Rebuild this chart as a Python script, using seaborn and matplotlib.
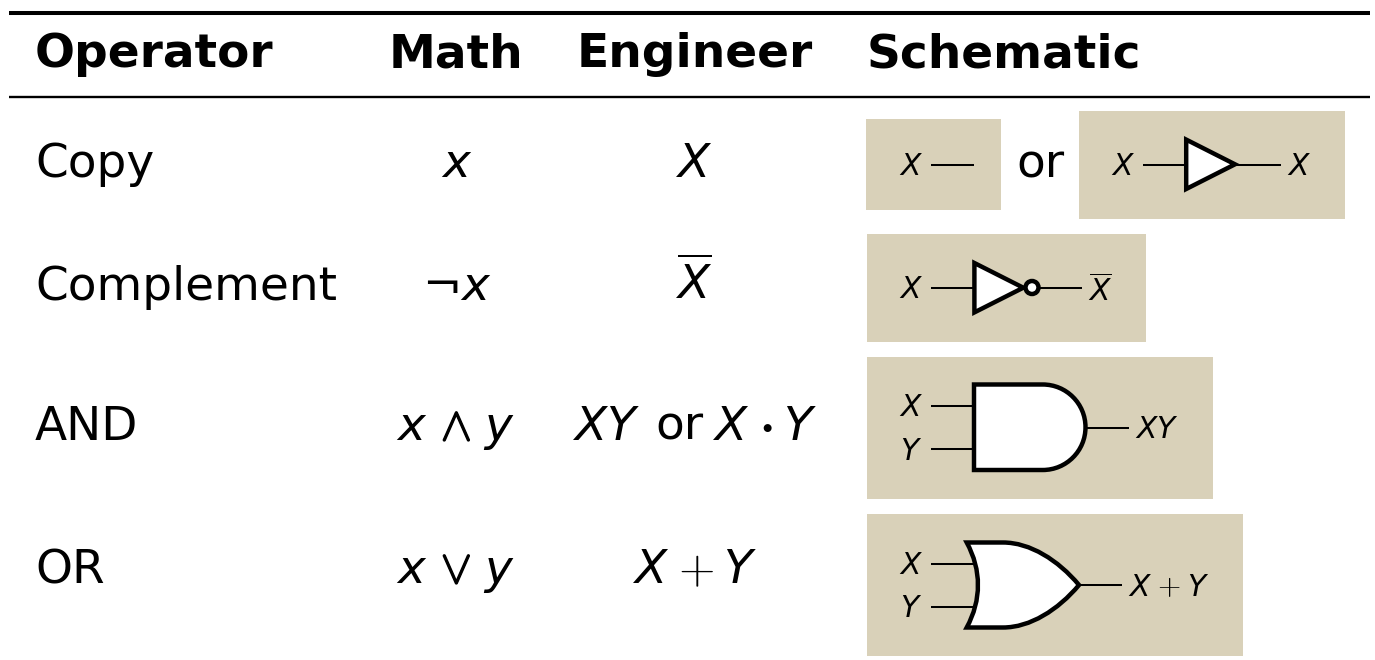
"""plot.py - boolean operator table with gate schematics."""

import matplotlib.patheffects as pe
import matplotlib.pyplot as plt
import seaborn as sns
from matplotlib.patches import Circle, PathPatch, Rectangle
from matplotlib.path import Path

HEADERS = ["Operator", "Math", "Engineer", "Schematic"]
OPERATORS = ["Copy", "Complement", "AND", "OR"]
MATH_COL = [r"$x$", r"$\neg x$", None, None]
ENGINEER_COL = [r"$X$", r"$\overline{X}$", None, None]

# layout, in pixels of the 1375x660 picture
ROW_BASELINES = [177, 300, 440, 583]
HEADER_BASELINE = 67
PANEL_COLOR = "#d9d1b9"
BIG = 33.8
SMALL = 21.4
THIN = 1.45
THICK = 3.2

PANELS = [
    (866, 119, 1001, 210),
    (1079, 111, 1345, 219),
    (867, 234, 1146, 342),
    (867, 357, 1213, 499),
    (867, 514, 1243, 656),
]
WIRES = [
    (931, 974, 164.5),
    (1143, 1186, 164.5),
    (1235, 1281, 164.5),
    (931, 974, 287.5),
    (1038, 1082, 287.5),
    (931, 973, 406),
    (931, 973, 449),
    (1086, 1129, 428),
    (931, 976, 563.5),
    (931, 976, 606.5),
    (1078, 1122, 585),
]
SMALL_LABELS = [
    (910.7, 175, r"$X$"),
    (1122.7, 175, r"$X$"),
    (1298.7, 175, r"$X$"),
    (910.7, 298, r"$X$"),
    (1100, 301, r"$\overline{X}$"),
    (910.7, 416.5, r"$X$"),
    (910.7, 460, r"$Y$"),
    (1156.7, 438.5, r"$XY$"),
    (910.7, 574, r"$X$"),
    (910.7, 617, r"$Y$"),
    (1140, 595.5, r"$X$"),
    (1198, 595.5, r"$Y$"),
]


def big_text(ax, x, y, s, ha="center", **kw):
    return ax.text(x, y, s, fontsize=kw.pop("fontsize", BIG), ha=ha, va="baseline", **kw)


def fatten(text, width):
    # cm symbols are too light next to the rest of the table
    text.set_path_effects([pe.withStroke(linewidth=width, foreground="black")])


def add_gate(ax, verts, codes):
    ax.add_patch(PathPatch(Path(verts, codes), fc="white", ec="black", lw=THICK,
                           joinstyle="miter", capstyle="projecting", zorder=3))


def draw_triangle(ax, x0, top, bottom, apex):
    mid = (top + bottom) / 2
    verts = [(x0, top), (apex, mid), (x0, bottom), (x0, top)]
    codes = [Path.MOVETO, Path.LINETO, Path.LINETO, Path.CLOSEPOLY]
    add_gate(ax, verts, codes)


def draw_and(ax, x0, x1, top, bottom):
    r = (bottom - top) / 2
    mid = (top + bottom) / 2
    k = 0.5523 * r
    cx = x1 - r
    verts = [(x0, top), (cx, top),
             (cx + k, top), (x1, mid - k), (x1, mid),
             (x1, mid + k), (cx + k, bottom), (cx, bottom),
             (x0, bottom), (x0, top)]
    codes = [Path.MOVETO, Path.LINETO,
             Path.CURVE4, Path.CURVE4, Path.CURVE4,
             Path.CURVE4, Path.CURVE4, Path.CURVE4,
             Path.LINETO, Path.CLOSEPOLY]
    add_gate(ax, verts, codes)


def draw_or(ax, x0, x1, top, bottom):
    mid = (top + bottom) / 2
    verts = [(x0, top), (1003, top),
             (1030, top), (1058, 560), (x1, mid),
             (1058, 610), (1030, bottom), (1003, bottom),
             (x0, bottom),
             (x0 + 15, 600), (x0 + 15, 570), (x0, top), (x0, top)]
    codes = [Path.MOVETO, Path.LINETO,
             Path.CURVE4, Path.CURVE4, Path.CURVE4,
             Path.CURVE4, Path.CURVE4, Path.CURVE4,
             Path.LINETO,
             Path.CURVE4, Path.CURVE4, Path.CURVE4, Path.CLOSEPOLY]
    add_gate(ax, verts, codes)


def main():
    sns.set_theme(style="white")
    plt.rcParams["font.family"] = "DejaVu Sans"
    plt.rcParams["mathtext.fontset"] = "dejavusans"
    plt.rcParams["text.color"] = "black"

    fig, ax = plt.subplots(figsize=(13.75, 6.6), dpi=100)
    ax.set_position([0, 0, 1, 1])
    ax.set_xlim(0, 1375)
    ax.set_ylim(660, 0)
    ax.axis("off")

    # table rules
    sns.lineplot(x=[9.5, 1370.5], y=[13, 13], color="black", linewidth=2.9,
                 solid_capstyle="butt", ax=ax)
    sns.lineplot(x=[9.5, 1370.5], y=[96.5, 96.5], color="black", linewidth=1.7,
                 solid_capstyle="butt", ax=ax)

    # header
    big_text(ax, 35, HEADER_BASELINE, HEADERS[0], ha="left", fontweight="bold")
    big_text(ax, 456, HEADER_BASELINE, HEADERS[1], fontweight="bold")
    big_text(ax, 695, HEADER_BASELINE, HEADERS[2], fontweight="bold")
    big_text(ax, 867, HEADER_BASELINE, HEADERS[3], ha="left", fontweight="bold")

    # first three columns
    for name, math, eng, y in zip(OPERATORS, MATH_COL, ENGINEER_COL, ROW_BASELINES):
        big_text(ax, 35, y, name, ha="left")
        if math:
            big_text(ax, 457, y, math)
        if eng:
            big_text(ax, 694, y, eng)

    # operators are set apart from their operands
    for row, sym in [(2, r"$\wedge$"), (3, r"$\vee$")]:
        y = ROW_BASELINES[row]
        big_text(ax, 411.7, y, r"$x$")
        fatten(big_text(ax, 456, y, sym, math_fontfamily="cm"), 1.0)
        big_text(ax, 499, y, r"$y$")
    y = ROW_BASELINES[2]
    big_text(ax, 606, y, r"$XY$")
    big_text(ax, 679, y, "or")
    big_text(ax, 731, y, r"$X$")
    fatten(big_text(ax, 766.7, y, r"$\cdot$", math_fontfamily="cm"), 2.0)
    big_text(ax, 799.5, y, r"$Y$")
    big_text(ax, 650.5, ROW_BASELINES[3], r"$X$")
    big_text(ax, 695.7, ROW_BASELINES[3], r"$+$", math_fontfamily="cm")
    big_text(ax, 740, ROW_BASELINES[3], r"$Y$")
    big_text(ax, 1040, ROW_BASELINES[0], "or")

    # schematic panels
    for x0, y0, x1, y1 in PANELS:
        ax.add_patch(Rectangle((x0, y0), x1 - x0, y1 - y0, fc=PANEL_COLOR, ec="none", zorder=1))
    for x0, x1, y in WIRES:
        sns.lineplot(x=[x0, x1], y=[y, y], color="black", linewidth=THIN,
                     solid_capstyle="butt", ax=ax, zorder=2)
    for x, y, s in SMALL_LABELS:
        big_text(ax, x, y, s, fontsize=SMALL, zorder=4)
    big_text(ax, 1169, 595.5, r"$+$", fontsize=SMALL, math_fontfamily="cm", zorder=4)

    # gates
    draw_triangle(ax, 1186.2, 139.6, 189, 1235)
    draw_triangle(ax, 974.4, 263, 312.4, 1023.3)
    ax.add_patch(Circle((1032, 287.5), 6.5, fc="white", ec="black", lw=THICK, zorder=4))
    draw_and(ax, 974, 1085.5, 384.5, 470)
    draw_or(ax, 966.7, 1079, 542.5, 627.5)

    fig.savefig("out.png", dpi=100)
    plt.close(fig)


if __name__ == "__main__":
    main()
